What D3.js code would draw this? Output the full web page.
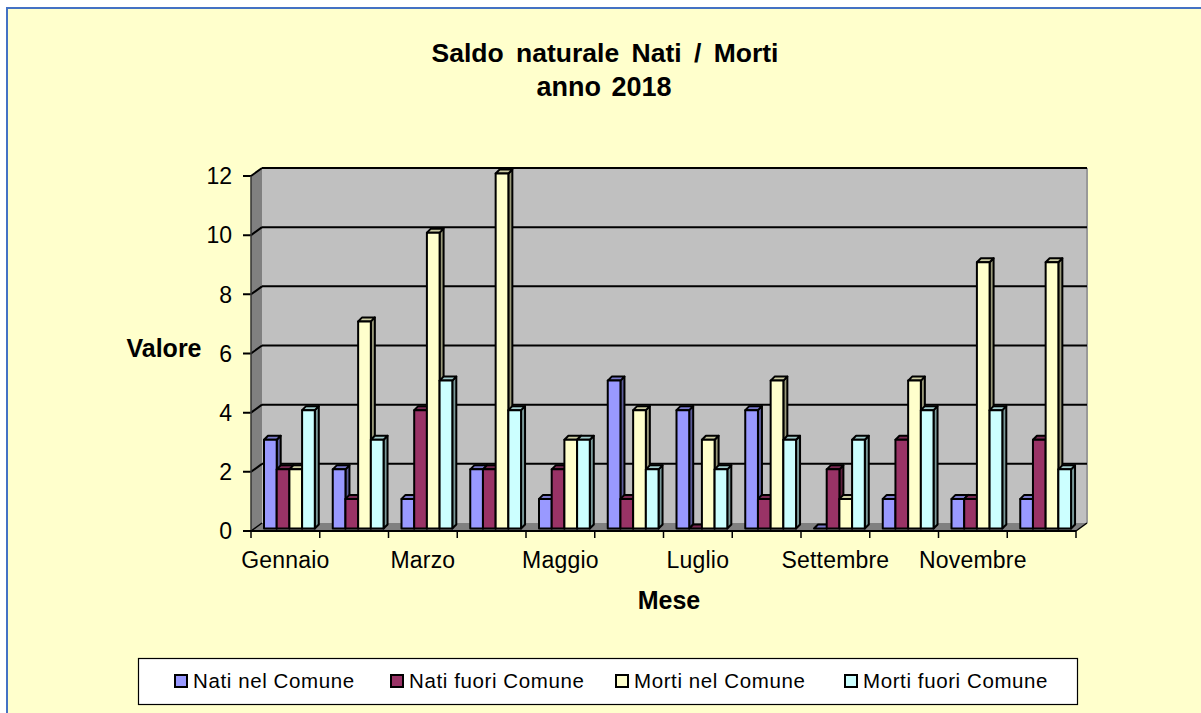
<!DOCTYPE html>
<html><head><meta charset="utf-8">
<script src="https://cdn.jsdelivr.net/npm/d3@7/dist/d3.min.js"></script>
<style>html,body{margin:0;padding:0;background:#fff}svg{display:block}text{font-family:"Liberation Sans",Arial,sans-serif;fill:#000}</style>
</head><body><svg id="c" width="1201" height="713"></svg>
<script>
const months = ["Gennaio","Febbraio","Marzo","Aprile","Maggio","Giugno","Luglio","Agosto","Settembre","Ottobre","Novembre","Dicembre"];
const shownMonths = ["Gennaio","Marzo","Maggio","Luglio","Settembre","Novembre"];
const natiNel = [3,2,1,2,1,5,4,4,0,1,1,1];
const natiFuori = [2,1,4,2,2,1,0,1,2,3,1,3];
const mortiNel = [2,7,10,12,3,4,3,5,1,5,9,9];
const mortiFuori = [4,3,5,4,3,2,2,3,3,4,4,2];
const seriesNames = ["Nati nel Comune","Nati fuori Comune","Morti nel Comune","Morti fuori Comune"];
const seriesValues = [natiNel,natiFuori,mortiNel,mortiFuori];
const colors = ["#9999FF","#993366","#FFFFCC","#CCFFFF"];
const sideColors = ["#5C5C99","#5C1F3D","#99997A","#7A9999"];
const topColors = ["#7A7ACC","#7A2952","#CCCCA3","#A3CCCC"];
const yTicks = [0,2,4,6,8,10,12];

const svg = d3.select("#c");
const bg = "#FFFFCC";
svg.append("rect").attr("x",7).attr("y",8).attr("width",1194).attr("height",705).attr("fill",bg);
svg.append("path").attr("d","M7,713V8H1201").attr("fill","none").attr("stroke","#4472C4").attr("stroke-width",2);

const x = d3.scaleBand().domain(months).range([251,1076]).paddingInner(0).paddingOuter(0);
const y = d3.scaleLinear().domain([0,12]).range([531,176]);
const inner = d3.scaleBand().domain(d3.range(4)).range([13,13+4*12.7]);
const dx = 11, dy = -8;           // wall depth
const bx = 0, by = -2.5;          // bar front plane
const bdx = 4, bdy = -4;          // bar depth

const g = svg.append("g");
g.append("rect").attr("x",x.range()[0]+dx).attr("y",y(12)+dy).attr("width",825).attr("height",y(0)-y(12))
  .attr("fill","#C0C0C0");
g.append("path").attr("d",`M251,${y(0)}V${y(12)}L${251+dx},${y(12)+dy}V${y(0)+dy}Z`).attr("fill","#808080");
g.append("path").attr("d",`M251,${y(0)}L${251+dx},${y(0)+dy}H${1076+dx}L1076,${y(0)}Z`).attr("fill","#808080");
g.append("line").attr("x1",1076+dx).attr("x2",1076+dx).attr("y1",y(12)+dy).attr("y2",y(0)+dy).attr("stroke","#999").attr("stroke-width",2);
yTicks.forEach(t=>{
  if(t>0) g.append("line").attr("x1",251+dx).attr("x2",1076+dx).attr("y1",y(t)+dy).attr("y2",y(t)+dy).attr("stroke","#000").attr("stroke-width",2);
  g.append("path").attr("d",`M243,${y(t)}H251L${251+dx},${y(t)+dy}`).attr("fill","none").attr("stroke","#000").attr("stroke-width",t==0?1.5:2);
  g.append("text").attr("x",232).attr("y",y(t)).attr("dy","0.36em").attr("text-anchor","end").attr("font-size",23).text(t);
});
g.append("line").attr("x1",251).attr("x2",251).attr("y1",y(12)).attr("y2",y(0)).attr("stroke","#333").attr("stroke-width",1.5);
g.append("line").attr("x1",243).attr("x2",1076).attr("y1",y(0)).attr("y2",y(0)).attr("stroke","#000").attr("stroke-width",2);
g.append("line").attr("x1",1076).attr("x2",1076+dx).attr("y1",y(0)).attr("y2",y(0)+dy).attr("stroke","#000").attr("stroke-width",1.5);
d3.range(13).forEach(i=>{
  const px = 251 + i*x.step();
  g.append("line").attr("x1",px).attr("x2",px).attr("y1",y(0)).attr("y2",y(0)+7).attr("stroke","#000").attr("stroke-width",1.5);
});
months.forEach((m,i)=>{
  const gm = g.append("g");
  seriesValues.forEach((vals,s)=>{
    const v = vals[i];
    const x0 = x(m)+inner(s)+bx, w = inner.bandwidth();
    const yt = y(v)+by, yb = y(0)+by;
    const st = {stroke:"#000","stroke-width":2,"stroke-linejoin":"round"};
    const side = gm.append("path").attr("d",`M${x0+w},${yt}l${bdx},${bdy}V${yb+bdy}l${-bdx},${-bdy}Z`).attr("fill",sideColors[s]);
    const top = gm.append("path").attr("d",`M${x0},${yt}l${bdx},${bdy}h${w}l${-bdx},${-bdy}Z`).attr("fill",topColors[s]);
    const front = gm.append("rect").attr("x",x0).attr("y",yt).attr("width",w).attr("height",yb-yt).attr("fill",colors[s]);
    [side,top,front].forEach(e=>Object.entries(st).forEach(([k,val])=>e.attr(k,val)));
  });
});
shownMonths.forEach(m=>{
  g.append("text").attr("x",x(m)+x.step()/2).attr("y",568).attr("text-anchor","middle").attr("font-size",23).attr("letter-spacing",0.2).text(m);
});
svg.append("text").attr("x",605).attr("y",62).attr("text-anchor","middle").attr("font-weight","bold").attr("font-size",26.5).attr("word-spacing",5).text("Saldo naturale Nati / Morti");
svg.append("text").attr("x",604).attr("y",96).attr("text-anchor","middle").attr("font-weight","bold").attr("font-size",27).attr("word-spacing",3).text("anno 2018");
svg.append("text").attr("x",164).attr("y",357).attr("text-anchor","middle").attr("font-weight","bold").attr("font-size",25).text("Valore");
svg.append("text").attr("x",669).attr("y",609).attr("text-anchor","middle").attr("font-weight","bold").attr("font-size",25).text("Mese");
svg.append("rect").attr("x",138.5).attr("y",658.5).attr("width",939).attr("height",46).attr("fill","#fff").attr("stroke","#000").attr("stroke-width",1.2);
const lx = [175,391,616,845];
seriesNames.forEach((n,s)=>{
  svg.append("rect").attr("x",lx[s]).attr("y",675).attr("width",12).attr("height",12).attr("fill",colors[s]).attr("stroke","#000").attr("stroke-width",2);
  svg.append("text").attr("x",lx[s]+18).attr("y",688).attr("font-size",20.5).attr("letter-spacing",0.6).attr("fill","#222").text(n);
});
</script></body></html>
